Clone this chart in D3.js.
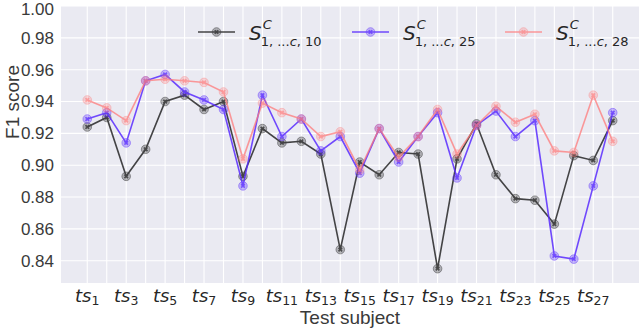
<!DOCTYPE html>
<html>
<head>
<meta charset="utf-8">
<script src="https://cdn.jsdelivr.net/npm/d3@7"></script>
<style>
  html, body { margin: 0; padding: 0; background: #fff; }
  svg { display: block; }
  .ytick { font-family: "Liberation Sans", Arial, sans-serif; font-size: 17px; fill: #3a3a3a; }
  .math { font-family: "DejaVu Sans", sans-serif; fill: #262626; }
</style>
</head>
<body>
<svg id="chart" width="640" height="328"></svg>
<script>
// ---- data ----
const subjects = d3.range(1, 29);   // ts_1 .. ts_28
const s10 = [0.924, 0.930, 0.893, 0.910, 0.940, 0.944, 0.935, 0.940, 0.893, 0.923,
             0.914, 0.915, 0.907, 0.847, 0.902, 0.894, 0.908, 0.907, 0.835, 0.904,
             0.926, 0.894, 0.879, 0.878, 0.863, 0.906, 0.903, 0.928];
const s25 = [0.929, 0.933, 0.914, 0.953, 0.957, 0.946, 0.941, 0.935, 0.887, 0.944,
             0.918, 0.929, 0.909, 0.918, 0.895, 0.923, 0.902, 0.918, 0.933, 0.892,
             0.925, 0.934, 0.918, 0.928, 0.843, 0.841, 0.887, 0.933];
const s28 = [0.941, 0.936, 0.928, 0.953, 0.954, 0.953, 0.952, 0.946, 0.904, 0.939,
             0.933, 0.929, 0.918, 0.921, 0.897, 0.923, 0.905, 0.918, 0.935, 0.907,
             0.925, 0.937, 0.927, 0.932, 0.909, 0.908, 0.944, 0.915];
const yTicks = [0.84, 0.86, 0.88, 0.90, 0.92, 0.94, 0.96, 0.98, 1.00];
const xTickSubjects = subjects.filter((d) => d % 2 === 1);
const seriesNames = ['10', '25', '28'];

const series = [
  { name: seriesNames[0], values: s10, color: '#1a1a1a', alpha: 0.8 },
  { name: seriesNames[1], values: s25, color: '#5a2cff', alpha: 0.85 },
  { name: seriesNames[2], values: s28, color: '#ff7b7b', alpha: 0.75 }
];

const svg = d3.select('#chart');
const plot = { left: 61, right: 639, top: 6, bottom: 283 };

const x = d3.scaleLinear().domain([-0.35, 29.35]).range([plot.left, plot.right]);
const y = d3.scaleLinear().domain([0.826, 1.0]).range([plot.bottom, plot.top]);

// background + grid (seaborn darkgrid look)
svg.append('rect')
  .attr('x', plot.left).attr('y', plot.top)
  .attr('width', plot.right - plot.left).attr('height', plot.bottom - plot.top)
  .attr('fill', '#eaeaf2');

svg.append('g').selectAll('line')
  .data(subjects)
  .join('line')
  .attr('x1', (d) => x(d)).attr('x2', (d) => x(d))
  .attr('y1', plot.top).attr('y2', plot.bottom)
  .attr('stroke', '#fff').attr('stroke-width', 1.1);

svg.append('g').selectAll('line')
  .data(yTicks)
  .join('line')
  .attr('x1', plot.left).attr('x2', plot.right)
  .attr('y1', (d) => y(d)).attr('y2', (d) => y(d))
  .attr('stroke', '#fff').attr('stroke-width', 1.1);

// y tick labels (top one nudged down so it stays inside the page)
svg.append('g').selectAll('text')
  .data(yTicks)
  .join('text')
  .attr('class', 'ytick')
  .attr('x', 54)
  .attr('y', (d) => Math.max(y(d), 9))
  .attr('dy', '0.35em')
  .attr('text-anchor', 'end')
  .text((d) => d3.format('.2f')(d));

// x tick labels: ts_i in math style
const xt = svg.append('g').selectAll('text')
  .data(xTickSubjects)
  .join('text')
  .attr('class', 'math')
  .attr('x', (d) => x(d))
  .attr('y', 302)
  .attr('text-anchor', 'middle');
xt.append('tspan').attr('font-style', 'italic').attr('font-size', 18).text('ts');
xt.append('tspan').attr('font-size', 12.5).attr('dy', 3).text((d) => d);

// axis titles
svg.append('text')
  .attr('class', 'ytick')
  .attr('x', 350).attr('y', 324)
  .attr('text-anchor', 'middle')
  .style('font-size', '19px')
  .text('Test subject');

svg.append('text')
  .attr('class', 'ytick')
  .attr('transform', 'translate(19,102) rotate(-90)')
  .attr('text-anchor', 'middle')
  .style('font-size', '19px')
  .text('F1 score');

// markers: translucent ring with a small asterisk in the middle
function drawMarker(sel, color) {
  sel.append('circle')
    .attr('r', 4.3)
    .attr('fill', color).attr('fill-opacity', 0.35)
    .attr('stroke', color).attr('stroke-opacity', 0.5).attr('stroke-width', 1);
  const star = d3.symbol().type(d3.symbolCross).size(14);
  sel.append('path')
    .attr('d', star())
    .attr('transform', 'rotate(45)')
    .attr('fill', color).attr('fill-opacity', 0.9);
}

const line = d3.line().x((d, i) => x(subjects[i])).y((d) => y(d));

series.forEach((s) => {
  const g = svg.append('g').attr('opacity', s.alpha);
  g.append('path')
    .datum(s.values)
    .attr('d', line)
    .attr('fill', 'none')
    .attr('stroke', s.color)
    .attr('stroke-width', 1.6);
  g.selectAll('g.pt')
    .data(s.values)
    .join('g')
    .attr('class', 'pt')
    .attr('transform', (d, i) => `translate(${x(subjects[i])},${y(d)})`)
    .call(drawMarker, s.color);
});

// legend
const legendX = [198, 352, 505];
series.forEach((s, i) => {
  const lg = svg.append('g').attr('transform', `translate(${legendX[i]},32)`);
  const lw = lg.append('g').attr('opacity', s.alpha);
  lw.append('line').attr('x1', 0).attr('x2', 37).attr('y1', 0).attr('y2', 0)
    .attr('stroke', s.color).attr('stroke-width', 1.6);
  lw.append('g').attr('transform', 'translate(18.5,0)').call(drawMarker, s.color);

  const sx = 51;
  const S = lg.append('text').attr('class', 'math')
    .attr('x', sx).attr('y', 8)
    .attr('font-size', 20).attr('font-style', 'italic')
    .text('S');
  const sw = S.node().getComputedTextLength();
  lg.append('text').attr('class', 'math')
    .attr('x', sx + sw + 1).attr('y', -3)
    .attr('font-size', 13).attr('font-style', 'italic')
    .text('C');
  const sub = lg.append('text').attr('class', 'math')
    .attr('x', sx + sw - 1).attr('y', 14)
    .attr('font-size', 13);
  sub.append('tspan').text('1, ...');
  sub.append('tspan').attr('font-style', 'italic').text('c');
  sub.append('tspan').text(', ' + s.name);
});
</script>
</body>
</html>
